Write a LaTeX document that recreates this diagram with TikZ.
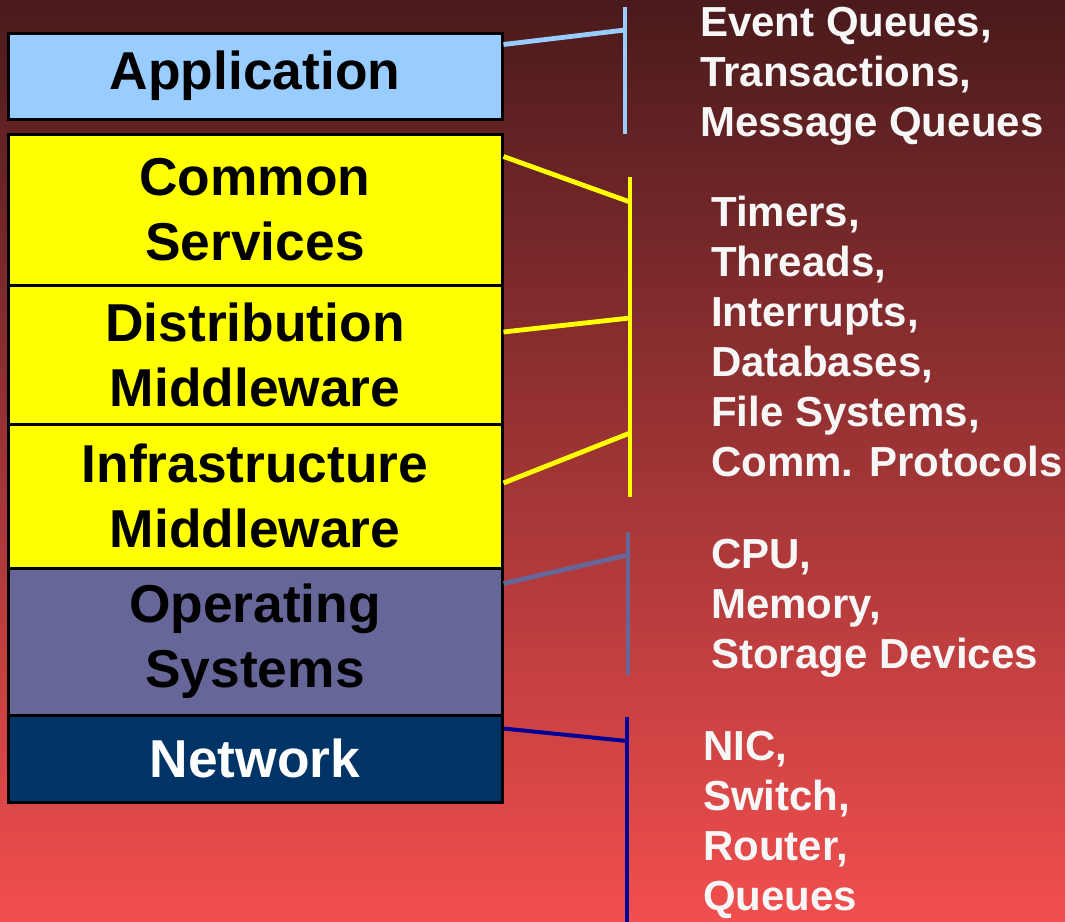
\documentclass[tikz,border=0pt]{standalone}
\usepackage{fontspec}
\setmainfont{Liberation Sans}
\usepackage{tikz}
\usetikzlibrary{positioning}
\definecolor{appblue}{HTML}{99CCFF}
\definecolor{midyellow}{HTML}{FFFF00}
\definecolor{osgray}{HTML}{666699}
\definecolor{netblue}{HTML}{003366}
\definecolor{linkblue}{HTML}{000099}
\definecolor{bgtop}{HTML}{4A1A1C}
\definecolor{bgmid}{HTML}{B43838}
\definecolor{bgbot}{HTML}{F24E4E}
\tikzset{
  layer/.style={rectangle,draw=black,line width=2.25pt,minimum width=370.5pt,
    inner sep=0pt,align=center,font=\fontsize{40}{48.75}\selectfont\bfseries},
  items/.style={anchor=west,inner sep=0pt,align=left,text=white!97!black,
    font=\fontsize{31.5}{37.5}\selectfont\bfseries},
  link/.style={line width=3.6pt}
}
\begin{document}
\begin{tikzpicture}[x=0.75pt,y=-0.75pt,node distance=-2.25pt]
\shade[top color=bgtop,middle color=bgmid,bottom color=bgbot] (0,0) rectangle (1065,922);
\useasboundingbox (0,0) rectangle (1065,922);
\node[layer,fill=appblue,minimum height=64.5pt] (app) at (255,76) {Application};
\node[layer,fill=midyellow,minimum height=113.25pt,below=9pt of app] (common) {Common\\Services};
\node[layer,fill=midyellow,minimum height=104.25pt,below=of common] (dist) {Distribution\\Middleware};
\node[layer,fill=midyellow,minimum height=108pt,below=of dist] (infra) {Infrastructure\\Middleware};
\node[layer,fill=osgray,minimum height=110.25pt,below=of infra] (os) {Operating\\Systems};
\node[layer,fill=netblue,text=white,minimum height=65.25pt,below=of os] (net) {Network};
\node[items] (appitems) at (700,76) {Event Queues,\\Transactions,\\Message Queues};
\node[items] (midditems) at (711,336.5) {Timers,\\Threads,\\Interrupts,\\Databases,\\File Systems,\\Comm. Protocols};
\node[items] (ositems) at (711,608) {CPU,\\Memory,\\Storage Devices};
\node[items] (netitems) at (703,825) {NIC,\\Switch,\\Router,\\Queues};
\coordinate (apptop) at (625,7); \coordinate (appbot) at (625,134);
\coordinate (appjoin) at (625,30);
\coordinate (midtop) at (630,177); \coordinate (midbot) at (630,497);
\coordinate (commonjoin) at (630,202); \coordinate (distjoin) at (630,318);
\coordinate (infrajoin) at (630,433);
\coordinate (ostop) at (628,532); \coordinate (osbot) at (628,675);
\coordinate (osjoin) at (628,555);
\coordinate (nettop) at (627,717); \coordinate (netbot) at (627,922);
\coordinate (netjoin) at (627,741);
\draw[link,appblue] (apptop)--(appbot);
\draw[link,appblue] ([yshift=-9.75pt]app.north east)--(appjoin);
\draw[link,midyellow] (midtop)--(midbot);
\draw[link,midyellow] ([yshift=-18pt]common.north east)--(commonjoin);
\draw[link,midyellow] ([yshift=16.9pt]dist.east)--(distjoin);
\draw[link,midyellow] ([yshift=9.75pt]infra.east)--(infrajoin);
\draw[link,osgray] (ostop)--(osbot);
\draw[link,osgray] ([yshift=-12.75pt]os.north east)--(osjoin);
\draw[link,linkblue,line width=3pt] (nettop)--(netbot);
\draw[link,linkblue,line width=3pt] ([yshift=-11.25pt]net.north east)--(netjoin);
\end{tikzpicture}
\end{document}
